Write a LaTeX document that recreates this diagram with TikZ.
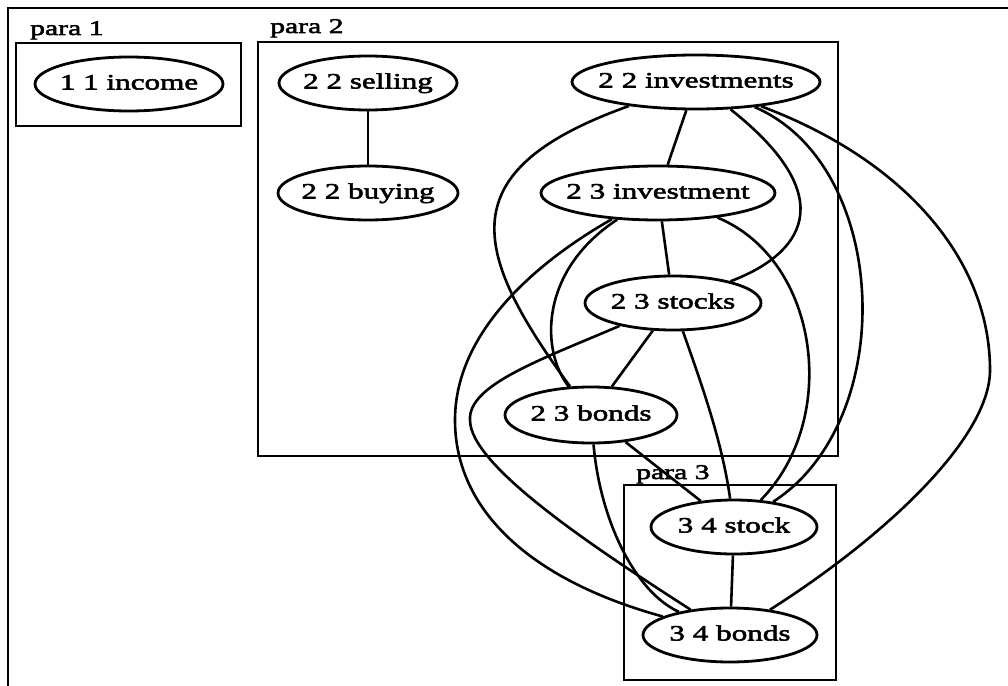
\documentclass[tikz,border=0pt]{standalone}
\usepackage{fontspec}
\setmainfont{Liberation Serif}[FakeStretch=1.42,FakeBold=2.5]
\usetikzlibrary{shapes.geometric}
% zero-width box so the ellipse size is set only by minimum width/height
\newcommand{\ctext}[1]{\makebox[0pt][c]{#1}}
\begin{document}
\begin{tikzpicture}[x=1bp,y=-1bp,
  term/.style={ellipse, draw, line width=2.8bp, inner sep=0pt,
    text height=15bp, text depth=4bp, font=\fontsize{22}{24}\selectfont},
  clusterbox/.style={draw, line width=2.8bp},
  clusterlabel/.style={anchor=base west, inner sep=0pt, font=\fontsize{21}{23}\selectfont},
  link/.style={line width=2.6bp}]
\useasboundingbox (0,0) rectangle (1008,686);
\clip (0,0) rectangle (1008,686);
\fill[white] (0,0) rectangle (1008,686);

% outer frame (continues past the page edge)
\draw[clusterbox] (8,700) -- (8,8) -- (1020,8);

% clusters
\draw[clusterbox] (16,43) rectangle (241,126);
\node[clusterlabel] (lab1) at (30,35) {para 1};
\draw[clusterbox] (258,42) rectangle (838,456);
\node[clusterlabel] (lab2) at (270,33) {para 2};
\draw[clusterbox] (624,485) rectangle (836,680);
\node[clusterlabel] (lab3) at (636,479) {para 3};

% terms
\node[term, minimum width=188bp, minimum height=54bp] (income) at (129,84) {\ctext{1 1 income}};
\node[term, minimum width=178bp, minimum height=54bp] (selling) at (368,83) {\ctext{2 2 selling}};
\node[term, minimum width=180bp, minimum height=54bp] (buying) at (368,193) {\ctext{2 2 buying}};
\node[term, minimum width=248bp, minimum height=54bp] (investments) at (696,82) {\ctext{2 2 investments}};
\node[term, minimum width=234bp, minimum height=54bp] (investment) at (658,193) {\ctext{2 3 investment}};
\node[term, minimum width=176bp, minimum height=54bp] (stocks) at (673,303) {\ctext{2 3 stocks}};
\node[term, minimum width=172bp, minimum height=56bp] (bonds23) at (591,415) {\ctext{2 3 bonds}};
\node[term, minimum width=166bp, minimum height=54bp] (stock34) at (734,527) {\ctext{3 4 stock}};
\node[term, minimum width=174bp, minimum height=54bp] (bonds34) at (730,635) {\ctext{3 4 bonds}};

% straight links
\draw[link] (selling) -- (buying);
\draw[link] (investments) -- (investment);
\draw[link] (investment) -- (stocks);
\draw[link] (stocks) -- (bonds23);
\draw[link] (bonds23) -- (stock34);
\draw[link] (stock34) -- (bonds34);

% curved links
\draw[link] (investments) .. controls (450,170) and (470,250) .. (bonds23);
\draw[link] (investments) .. controls (845,200) and (800,255) .. (stocks);
\draw[link] (investments) .. controls (890,165) and (900,420) .. (stock34);
\draw[link] (investments) .. controls (905,160) and (990,260) .. (990,370)
                          .. controls (990,440) and (880,540) .. (bonds34);
\draw[link] (investment) .. controls (540,270) and (540,350) .. (bonds23);
\draw[link] (investment) .. controls (540,260) and (455,330) .. (455,420)
                         .. controls (455,510) and (530,580) .. (bonds34);
\draw[link] (investment) .. controls (820,260) and (840,420) .. (stock34);
\draw[link] (stocks) .. controls (700,380) and (722,440) .. (stock34);
\draw[link] (stocks) .. controls (540,360) and (468,385) .. (470,420)
                     .. controls (470,465) and (590,545) .. (bonds34);
\draw[link] (bonds23) .. controls (600,520) and (635,592) .. (bonds34);
\end{tikzpicture}
\end{document}
